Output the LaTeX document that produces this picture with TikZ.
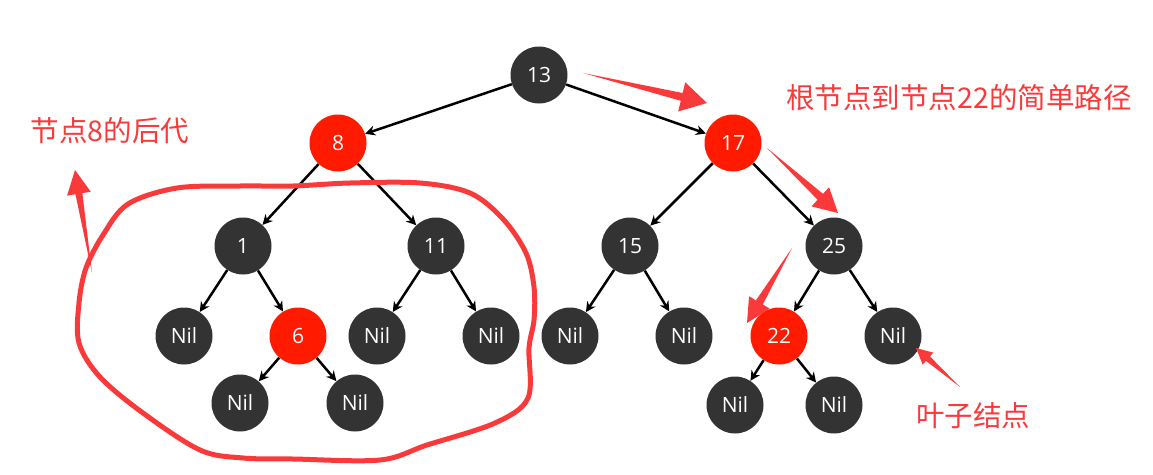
\documentclass[tikz,border=0pt]{standalone}
\usepackage{fontspec}
\newfontfamily\cjk{Noto Sans CJK SC}
\newfontfamily\nodefont{Open Sans}
\usetikzlibrary{arrows.meta,calc}
\definecolor{nodedark}{RGB}{51,51,51}
\definecolor{nodered}{RGB}{255,26,0}
\definecolor{annotred}{RGB}{250,58,58}
\newcommand\wedgearrow[5]{%
  \coordinate (wa-T) at (#1);
  \coordinate (wa-P) at (#2);
  \coordinate (wa-H) at ($(wa-P)!#3!(wa-T)$);
  \fill[annotred] (wa-T) -- ($(wa-H)!#5!90:(wa-P)$) -- ($(wa-H)!#4!90:(wa-P)$) -- (wa-P)
     -- ($(wa-H)!#4!-90:(wa-P)$) -- ($(wa-H)!#5!-90:(wa-P)$) -- cycle;
}
\begin{document}
\begin{tikzpicture}[x=1pt,y=-1pt,
  tnode/.style={circle,minimum size=57pt,inner sep=0pt,fill=nodedark,text=white,font=\nodefont\fontsize{21}{24}\selectfont},
  rnode/.style={tnode,fill=nodered},
  edge/.style={draw=black,line width=2.5pt,-{Stealth[length=10pt,width=10pt]}},
  annot/.style={text=annotred,font=\cjk\fontsize{28.5}{32}\selectfont,inner sep=0pt},
  loopline/.style={draw=annotred,line width=5pt,line join=round}]
\useasboundingbox (0,0) rectangle (1153,474);
% nodes
\node[tnode] (n13) at (539,75) {13};
\node[rnode] (n8) at (338,143) {8};
\node[rnode] (n17) at (733,143) {17};
\node[tnode] (n1) at (243,246) {1};
\node[tnode] (n11) at (436,246) {11};
\node[tnode] (n15) at (630,246) {15};
\node[tnode] (n25) at (834,246) {25};
\node[tnode] (nil1) at (184,336) {Nil};
\node[rnode] (n6) at (298,336) {6};
\node[tnode] (nil2) at (377,336) {Nil};
\node[tnode] (nil3) at (491,336) {Nil};
\node[tnode] (nil4) at (570,336) {Nil};
\node[tnode] (nil5) at (684,336) {Nil};
\node[rnode] (n22) at (779,336) {22};
\node[tnode] (nil6) at (893,336) {Nil};
\node[tnode] (nil7) at (240,403) {Nil};
\node[tnode] (nil8) at (355,403) {Nil};
\node[tnode] (nil9) at (735,405) {Nil};
\node[tnode] (nil10) at (834,405) {Nil};
% edges
\draw[edge] (n13) -- (n8);
\draw[edge] (n13) -- (n17);
\draw[edge] (n8) -- (n1);
\draw[edge] (n8) -- (n11);
\draw[edge] (n17) -- (n15);
\draw[edge] (n17) -- (n25);
\draw[edge] (n1) -- (nil1);
\draw[edge] (n1) -- (n6);
\draw[edge] (n11) -- (nil2);
\draw[edge] (n11) -- (nil3);
\draw[edge] (n15) -- (nil4);
\draw[edge] (n15) -- (nil5);
\draw[edge] (n25) -- (n22);
\draw[edge] (n25) -- (nil6);
\draw[edge] (n6) -- (nil7);
\draw[edge] (n6) -- (nil8);
\draw[edge] (n22) -- (nil9);
\draw[edge] (n22) -- (nil10);
% annotations
\node[annot] (t1) at (110,131) {节点8的后代};
\node[annot] (t2) at (959,98) {根节点到节点22的简单路径};
\node[annot] (t3) at (973,416) {叶子结点};
\draw[loopline] plot[smooth cycle,tension=0.55] coordinates {
  (177,188) (240,186) (293,186) (350,183) (420,183) (470,193) (503,219) (526,253)
  (534,287) (534,320) (529,348) (528,398) (495,423) (427,445) (380,460)
  (293,459) (243,458) (200,450) (143,413) (100,377) (79,343) (79,303)
  (86,268) (103,235) (128,204)};
\wedgearrow{583,73}{707,103}{26pt}{15pt}{4pt}
\wedgearrow{767,148}{838,213}{24pt}{13pt}{4pt}
\wedgearrow{792,248}{747,323}{24pt}{12pt}{4pt}
\wedgearrow{960,387}{916,348}{16pt}{8pt}{3pt}
\wedgearrow{92,273}{75,170}{24pt}{12pt}{3.5pt}
\end{tikzpicture}
\end{document}
